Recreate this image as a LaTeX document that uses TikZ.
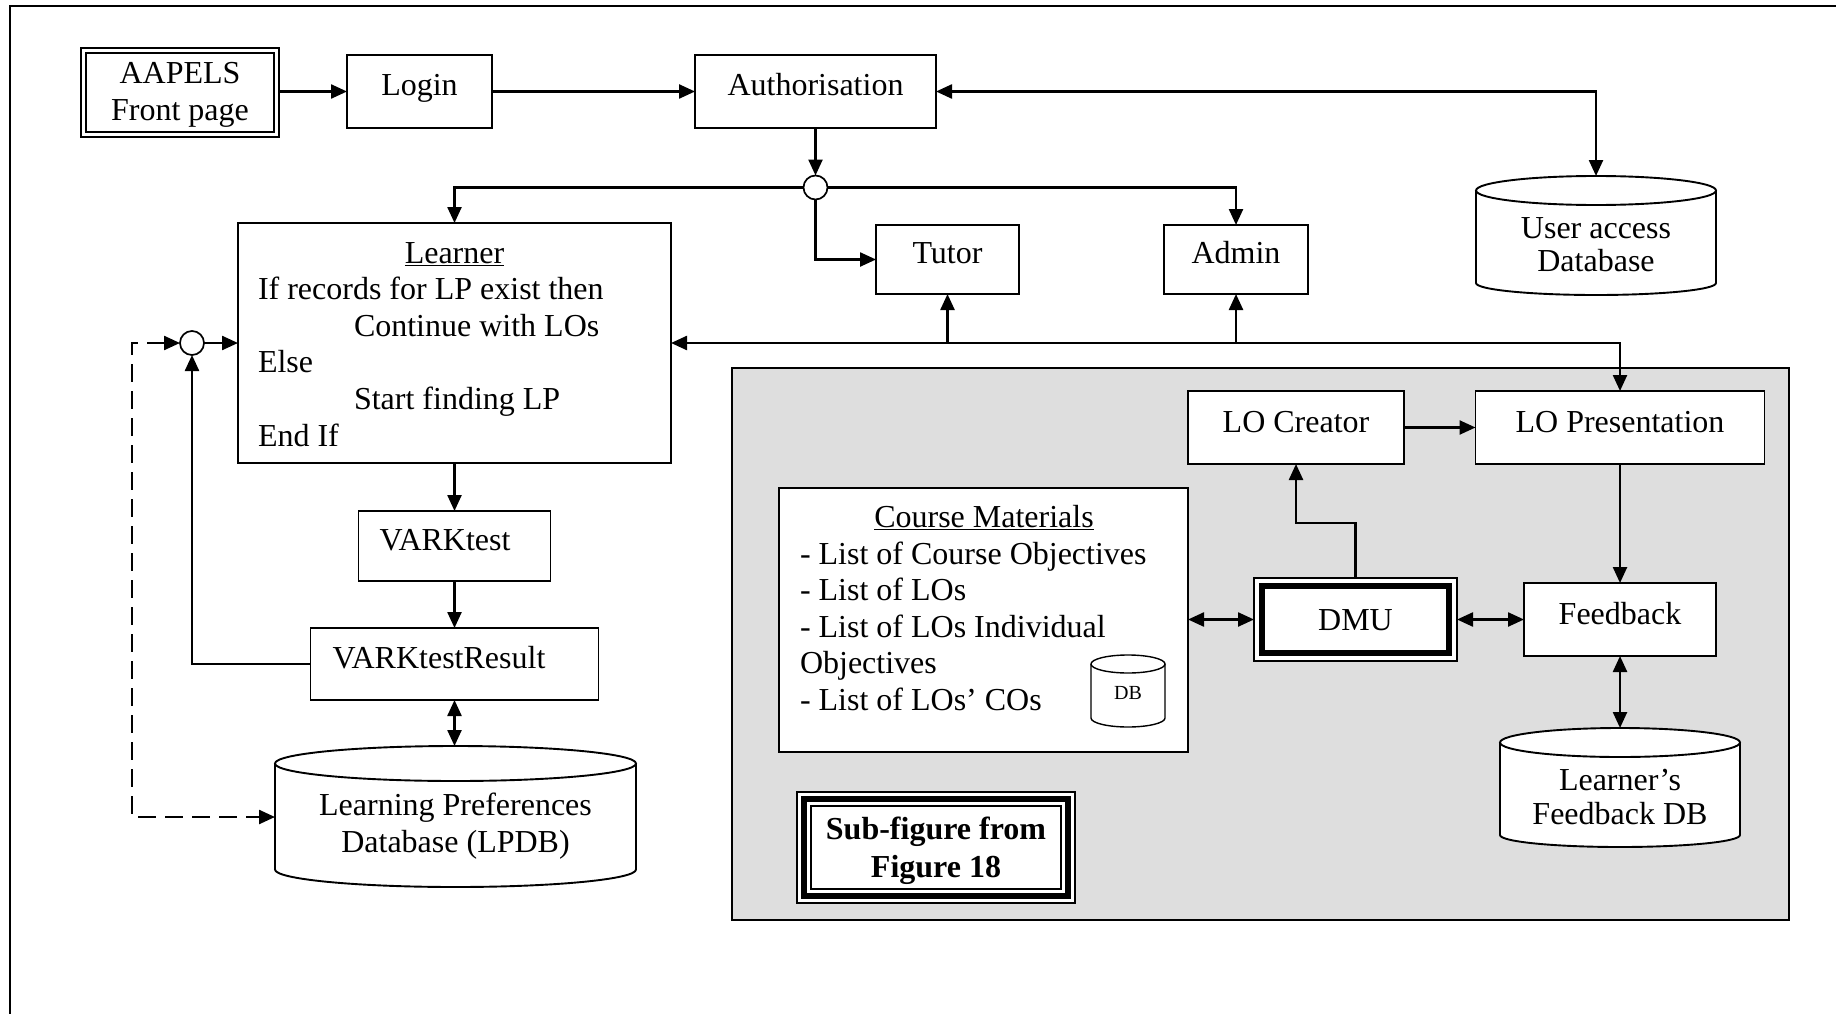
\documentclass[tikz,border=0pt]{standalone}
\usepackage{fontspec}
\setmainfont{Liberation Serif}
\usetikzlibrary{arrows.meta}
\definecolor{panelgray}{HTML}{DEDEDE}
\begin{document}
\begin{tikzpicture}[x=1pt,y=-1pt,
  box/.style={draw=black, line width=1.9pt, fill=white, inner sep=0pt, outer sep=0pt, rectangle},
  junction/.style={draw=black, line width=1.7pt, fill=white, circle, minimum size=24pt, inner sep=0pt, outer sep=0pt},
  txt/.style={inner sep=0pt, outer sep=0pt, font=\fontsize{32}{36.7}\selectfont},
  smalltxt/.style={inner sep=0pt, outer sep=0pt, font=\fontsize{20}{24}\selectfont},
  tip/.tip={Triangle[length=16pt,width=14pt]},
  conn/.style={line width=2.4pt, -tip},
  bconn/.style={line width=2.4pt, tip-tip},
  dbline/.style={line width=1.9pt}
]
\useasboundingbox (0,0) rectangle (1836,1014);
\fill[white] (0,0) rectangle (1836,1014);
% outer frame (only top and left edges visible)
\draw[line width=2.5pt] (10,1014) -- (10,6) -- (1836,6);

% grey sub-figure panel
\node[draw=black, line width=2pt, fill=panelgray, minimum width=1057pt, minimum height=552pt, inner sep=0pt, outer sep=0pt] (panel) at (1260.5,644) {};

% ---------- boxes ----------
\node[box, line width=2.5pt, minimum width=198pt, minimum height=89pt] (aapels) at (180,92.5) {};
\draw[line width=2pt] ([shift={(5,5)}]aapels.north west) rectangle ([shift={(-5,-5)}]aapels.south east);
\node[box, minimum width=145pt, minimum height=73pt] (login) at (419.5,91.5) {};
\node[box, minimum width=241pt, minimum height=73pt] (auth) at (815.5,91.5) {};
\node[junction] (circ1) at (815.5,187.5) {};
\node[box, minimum width=433pt, minimum height=240pt] (learner) at (454.5,343) {};
\node[box, minimum width=143pt, minimum height=69pt] (tutor) at (947.5,259.5) {};
\node[box, minimum width=144pt, minimum height=69pt] (admin) at (1236,259.5) {};
\node[box, minimum width=192pt, minimum height=70pt] (vark) at (454.5,546) {};
\node[box, minimum width=288pt, minimum height=72pt] (varkres) at (454.5,664) {};
\node[junction] (circ2) at (192,343) {};
\node[box, minimum width=216pt, minimum height=73pt] (locreator) at (1296,427.5) {};
\node[box, minimum width=289pt, minimum height=73pt] (lopres) at (1620,427.5) {};
\node[box, minimum width=409pt, minimum height=264pt] (cm) at (983.5,620) {};
\node[box, line width=1.2pt, minimum width=203pt, minimum height=83pt] (dmu) at (1355.5,619.5) {};
\draw[line width=6pt] ([shift={(8,8)}]dmu.north west) rectangle ([shift={(-8,-8)}]dmu.south east);
\node[box, minimum width=192pt, minimum height=73pt] (feedback) at (1620,619.5) {};
\node[box, line width=1.2pt, minimum width=278pt, minimum height=111pt] (subfig) at (936,847.5) {};
\draw[line width=5.5pt] ([shift={(7,7)}]subfig.north west) rectangle ([shift={(-7,-7)}]subfig.south east);
\draw[line width=2pt] ([shift={(14,14)}]subfig.north west) rectangle ([shift={(-14,-14)}]subfig.south east);

% ---------- cylinders ----------
% User access Database: L1476 R1716 T176 B295
\fill[white] (1476,190.5) rectangle (1716,283);
\fill[white] (1596,283) ellipse[x radius=120, y radius=12];
\draw[dbline] (1476,190.5) -- (1476,283) arc[start angle=180, end angle=0, x radius=120, y radius=12] -- (1716,190.5);
\draw[dbline, fill=white] (1596,190.5) ellipse[x radius=120, y radius=14.5];
\coordinate (uadbtop) at (1596,176);
% Learning Preferences Database: L275 R636 T746 B887
\fill[white] (275,763.5) rectangle (636,869.5);
\fill[white] (455.5,869.5) ellipse[x radius=180.5, y radius=17.5];
\draw[dbline] (275,763.5) -- (275,869.5) arc[start angle=180, end angle=0, x radius=180.5, y radius=17.5] -- (636,763.5);
\draw[dbline, fill=white] (455.5,763.5) ellipse[x radius=180.5, y radius=17.5];
\coordinate (lpdbtop) at (454.5,746);
\coordinate (lpdbleft) at (275,817);
% Learner's Feedback DB: L1500 R1740 T728 B847
\fill[white] (1500,742.5) rectangle (1740,835);
\fill[white] (1620,835) ellipse[x radius=120, y radius=12];
\draw[dbline] (1500,742.5) -- (1500,835) arc[start angle=180, end angle=0, x radius=120, y radius=12] -- (1740,742.5);
\draw[dbline, fill=white] (1620,742.5) ellipse[x radius=120, y radius=14.5];
\coordinate (lfdbtop) at (1620,728);
% small DB in course materials: L1091 R1165 T655 B727
\draw[line width=1.4pt] (1091,664) -- (1091,718) arc[start angle=180, end angle=0, x radius=37, y radius=9] -- (1165,664);
\draw[line width=1.4pt] (1128,664) ellipse[x radius=37, y radius=9];

% ---------- texts ----------
\node[txt, anchor=base] (tA1) at (180,84) {AAPELS};
\node[txt, anchor=base] (tA2) at (180,120.5) {Front page};
\node[txt, anchor=base] (tLogin) at (419.5,96) {Login};
\node[txt, anchor=base] (tAuth) at (815.5,96) {Authorisation};
\node[txt, anchor=base] (tTutor) at (947.5,263) {Tutor};
\node[txt, anchor=base] (tAdmin) at (1236,263) {Admin};
\node[txt, anchor=base] (tUA1) at (1596,238) {User access};
\node[txt, anchor=base] (tUA2) at (1596,271) {Database};
\node[txt, anchor=base] (tL0) at (454.5,263) {\underline{Learner}};
\node[txt, anchor=base west] (tL1) at (258,299.5) {If records for LP exist then};
\node[txt, anchor=base west] (tL2) at (354,336) {Continue with LOs};
\node[txt, anchor=base west] (tL3) at (258,372.5) {Else};
\node[txt, anchor=base west] (tL4) at (354,409) {Start finding LP};
\node[txt, anchor=base west] (tL5) at (258,446) {End If};
\node[txt, anchor=base west] (tVark) at (379.5,550) {VARKtest};
\node[txt, anchor=base west] (tVarkRes) at (332.6,668) {VARKtestResult};
\node[txt, anchor=base] (tLP1) at (455.5,815) {Learning Preferences};
\node[txt, anchor=base] (tLP2) at (455.5,852) {Database (LPDB)};
\node[txt, anchor=base] (tCM0) at (984,527) {\underline{Course Materials}};
\node[txt, anchor=base west] (tCM1) at (800,564) {- List of Course Objectives};
\node[txt, anchor=base west] (tCM2) at (800,600) {- List of LOs};
\node[txt, anchor=base west] (tCM3) at (800,637) {- List of LOs Individual};
\node[txt, anchor=base west] (tCM4) at (800,673) {Objectives};
\node[txt, anchor=base west] (tCM5) at (800,710) {- List of LOs’ COs};
\node[smalltxt, anchor=base] (tDB) at (1128,699) {DB};
\node[txt, anchor=base] (tLOC) at (1296,432) {LO Creator};
\node[txt, anchor=base] (tLOP) at (1620,432) {LO Presentation};
\node[txt, anchor=base] (tDMU) at (1355.5,630) {DMU};
\node[txt, anchor=base] (tFB) at (1620,624) {Feedback};
\node[txt, anchor=base] (tLF1) at (1620,790) {Learner’s};
\node[txt, anchor=base] (tLF2) at (1620,824) {Feedback DB};
\node[txt, anchor=base, font=\fontsize{32}{36.7}\selectfont\bfseries] (tSF1) at (936,839) {Sub-figure from};
\node[txt, anchor=base, font=\fontsize{32}{36.7}\selectfont\bfseries] (tSF2) at (936,877) {Figure 18};

% ---------- connectors ----------
\draw[conn] (aapels.east |- login.west) -- (login.west);
\draw[conn] (login.east) -- (auth.west);
\draw[bconn] (auth.east) -- (uadbtop |- auth.east) -- (uadbtop);
\draw[conn] (auth.south) -- (circ1.north);
\draw[conn] (circ1.west) -| (learner.north);
\draw[conn] (circ1.south) |- (tutor.west);
\draw[conn] (circ1.east) -| (admin.north);
\draw[bconn] (learner.east) -- (lopres.north |- learner.east) -- (lopres.north);
\draw[conn] (tutor.south |- learner.east) -- (tutor.south);
\draw[conn] (admin.south |- learner.east) -- (admin.south);
\draw[conn] (learner.south) -- (vark.north);
\draw[conn] (vark.south) -- (varkres.north);
\draw[bconn] (varkres.south) -- (lpdbtop);
\draw[conn] (varkres.west) -| (circ2.south);
\draw[conn] (circ2.east) -- (learner.west);
\coordinate (dcorner) at (132,343);
\draw[bconn, dash pattern=on 18pt off 9pt] (circ2.west) -- (dcorner) |- (lpdbleft);
\draw[conn] (locreator.east) -- (lopres.west);
\coordinate (dmuk) at (1355.5,523);
\draw[conn] (dmu.north) -- (dmuk) -| (locreator.south);
\draw[bconn] (cm.east |- dmu.west) -- (dmu.west);
\draw[bconn] (dmu.east) -- (feedback.west);
\draw[conn] (lopres.south) -- (feedback.north);
\draw[bconn] (feedback.south) -- (lfdbtop);
\end{tikzpicture}
\end{document}
